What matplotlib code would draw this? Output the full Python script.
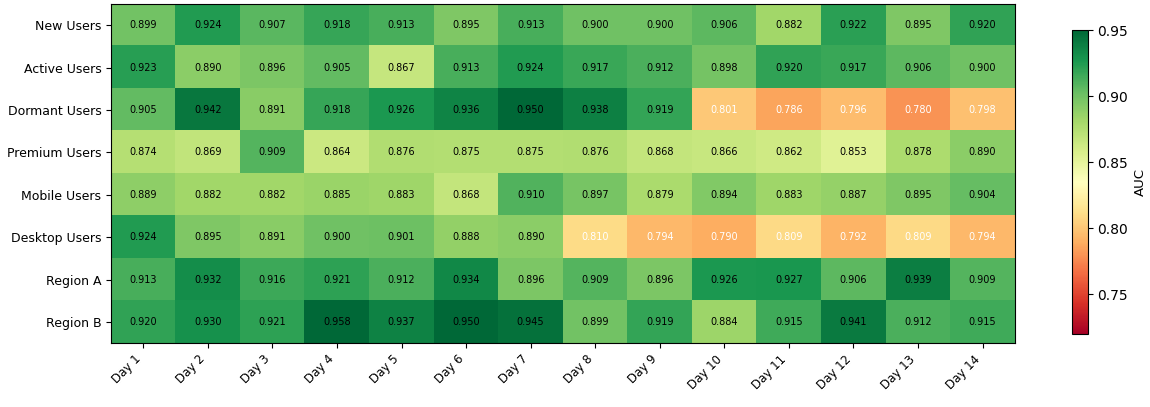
import matplotlib
matplotlib.use("Agg")
import matplotlib.pyplot as plt
import numpy as np

segments = ["New Users", "Active Users", "Dormant Users", "Premium Users",
            "Mobile Users", "Desktop Users", "Region A", "Region B"]
days = [f"Day {i}" for i in range(1, 15)]

new_users = [0.899, 0.924, 0.907, 0.918, 0.913, 0.895, 0.913, 0.900, 0.900, 0.906, 0.882, 0.922, 0.895, 0.920]
active_users = [0.923, 0.890, 0.896, 0.905, 0.867, 0.913, 0.924, 0.917, 0.912, 0.898, 0.920, 0.917, 0.906, 0.900]
dormant_users = [0.905, 0.942, 0.891, 0.918, 0.926, 0.936, 0.950, 0.938, 0.919, 0.801, 0.786, 0.796, 0.780, 0.798]
premium_users = [0.874, 0.869, 0.909, 0.864, 0.876, 0.875, 0.875, 0.876, 0.868, 0.866, 0.862, 0.853, 0.878, 0.890]
mobile_users = [0.889, 0.882, 0.882, 0.885, 0.883, 0.868, 0.910, 0.897, 0.879, 0.894, 0.883, 0.887, 0.895, 0.904]
desktop_users = [0.924, 0.895, 0.891, 0.900, 0.901, 0.888, 0.890, 0.810, 0.794, 0.790, 0.809, 0.792, 0.809, 0.794]
region_a = [0.913, 0.932, 0.916, 0.921, 0.912, 0.934, 0.896, 0.909, 0.896, 0.926, 0.927, 0.906, 0.939, 0.909]
region_b = [0.920, 0.930, 0.921, 0.958, 0.937, 0.950, 0.945, 0.899, 0.919, 0.884, 0.915, 0.941, 0.912, 0.915]

data = np.array([new_users, active_users, dormant_users, premium_users,
                 mobile_users, desktop_users, region_a, region_b])

fig = plt.figure(figsize=(11.5, 4.07), dpi=100)
ax = fig.add_axes([0.0965, 0.157, 0.786, 0.833])
cax = fig.add_axes([0.932, 0.179, 0.0139, 0.747])

im = ax.imshow(data, cmap="RdYlGn", vmin=0.72, vmax=0.95, aspect="auto")

ax.set_xticks(range(len(days)))
ax.set_xticklabels(days, rotation=45, ha="right", fontsize=8.5)
ax.set_yticks(range(len(segments)))
ax.set_yticklabels(segments, fontsize=9)

for i in range(data.shape[0]):
    for j in range(data.shape[1]):
        v = data[i, j]
        ax.text(j, i, f"{v:.3f}", ha="center", va="center", fontsize=7,
                color="white" if v < 0.82 else "black")

cb = fig.colorbar(im, cax=cax)
cb.set_label("AUC", fontsize=9.5)
cb.ax.tick_params(labelsize=10)
cb.set_ticks([0.75, 0.80, 0.85, 0.90, 0.95])

fig.savefig("out.png", dpi=100)
